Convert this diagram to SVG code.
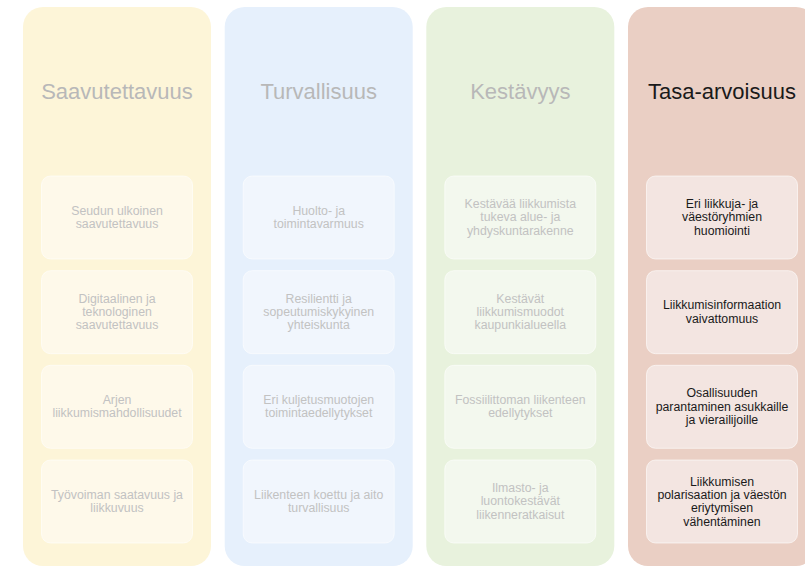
<svg xmlns="http://www.w3.org/2000/svg" width="805" height="567" viewBox="0 0 805 567">
<style>
.col{stroke:none}
.box{stroke:#ffffff;stroke-opacity:0.6;stroke-width:1}
text{font-family:"Liberation Sans",Arial,sans-serif;text-anchor:middle}
.t{font-size:22px}
.s{font-size:12.3px}
.dim{fill:#b8b8b8}
.dims{fill:#c2c2c2}
.dark{fill:#1a1a1a}
</style>
<rect width="805" height="567" fill="#ffffff"/>
<g id="col1">
<rect class="col" x="23" y="7" width="188" height="559" rx="20" fill="#fdf5d8"/>
<text class="t dim" x="117" y="99">Saavutettavuus</text>
<g id="c1b1"><rect class="box" x="41.5" y="176" width="151" height="83" rx="9" fill="#fef9ea"/>
<text class="s dims" x="117" y="214.6">Seudun ulkoinen</text><text class="s dims" x="117" y="227.9">saavutettavuus</text></g>
<g id="c1b2"><rect class="box" x="41.5" y="270.7" width="151" height="83" rx="9" fill="#fef9ea"/>
<text class="s dims" x="117" y="302.6">Digitaalinen ja</text><text class="s dims" x="117" y="315.9">teknologinen</text><text class="s dims" x="117" y="329.2">saavutettavuus</text></g>
<g id="c1b3"><rect class="box" x="41.5" y="365.3" width="151" height="83" rx="9" fill="#fef9ea"/>
<text class="s dims" x="117" y="403.9">Arjen</text><text class="s dims" x="117" y="417.2">liikkumismahdollisuudet</text></g>
<g id="c1b4"><rect class="box" x="41.5" y="460" width="151" height="83" rx="9" fill="#fef9ea"/>
<text class="s dims" x="117" y="498.6">Työvoiman saatavuus ja</text><text class="s dims" x="117" y="511.9">liikkuvuus</text></g>
</g>
<g id="col2">
<rect class="col" x="224.7" y="7" width="188" height="559" rx="20" fill="#e6f0fc"/>
<text class="t dim" x="318.7" y="99">Turvallisuus</text>
<g id="c2b1"><rect class="box" x="243.2" y="176" width="151" height="83" rx="9" fill="#f1f6fd"/>
<text class="s dims" x="318.7" y="214.6">Huolto- ja</text><text class="s dims" x="318.7" y="227.9">toimintavarmuus</text></g>
<g id="c2b2"><rect class="box" x="243.2" y="270.7" width="151" height="83" rx="9" fill="#f1f6fd"/>
<text class="s dims" x="318.7" y="302.6">Resilientti ja</text><text class="s dims" x="318.7" y="315.9">sopeutumiskykyinen</text><text class="s dims" x="318.7" y="329.2">yhteiskunta</text></g>
<g id="c2b3"><rect class="box" x="243.2" y="365.3" width="151" height="83" rx="9" fill="#f1f6fd"/>
<text class="s dims" x="318.7" y="403.9">Eri kuljetusmuotojen</text><text class="s dims" x="318.7" y="417.2">toimintaedellytykset</text></g>
<g id="c2b4"><rect class="box" x="243.2" y="460" width="151" height="83" rx="9" fill="#f1f6fd"/>
<text class="s dims" x="318.7" y="498.6">Liikenteen koettu ja aito</text><text class="s dims" x="318.7" y="511.9">turvallisuus</text></g>
</g>
<g id="col3">
<rect class="col" x="426.3" y="7" width="188" height="559" rx="20" fill="#e8f2dd"/>
<text class="t dim" x="520.3" y="99">Kestävyys</text>
<g id="c3b1"><rect class="box" x="444.8" y="176" width="151" height="83" rx="9" fill="#f3f8ee"/>
<text class="s dims" x="520.3" y="208">Kestävää liikkumista</text><text class="s dims" x="520.3" y="221.3">tukeva alue- ja</text><text class="s dims" x="520.3" y="234.6">yhdyskuntarakenne</text></g>
<g id="c3b2"><rect class="box" x="444.8" y="270.7" width="151" height="83" rx="9" fill="#f3f8ee"/>
<text class="s dims" x="520.3" y="302.6">Kestävät</text><text class="s dims" x="520.3" y="315.9">liikkumismuodot</text><text class="s dims" x="520.3" y="329.2">kaupunkialueella</text></g>
<g id="c3b3"><rect class="box" x="444.8" y="365.3" width="151" height="83" rx="9" fill="#f3f8ee"/>
<text class="s dims" x="520.3" y="403.9">Fossiilittoman liikenteen</text><text class="s dims" x="520.3" y="417.2">edellytykset</text></g>
<g id="c3b4"><rect class="box" x="444.8" y="460" width="151" height="83" rx="9" fill="#f3f8ee"/>
<text class="s dims" x="520.3" y="492">Ilmasto- ja</text><text class="s dims" x="520.3" y="505.3">luontokestävät</text><text class="s dims" x="520.3" y="518.6">liikenneratkaisut</text></g>
</g>
<g id="col4">
<rect class="col" x="628" y="7" width="188" height="559" rx="20" fill="#eacfc4"/>
<text class="t dark" x="722" y="99">Tasa-arvoisuus</text>
<g id="c4b1"><rect class="box" x="646.5" y="176" width="151" height="83" rx="9" fill="#f3e5e1"/>
<text class="s dark" x="722" y="208">Eri liikkuja-  ja</text><text class="s dark" x="722" y="221.3">väestöryhmien</text><text class="s dark" x="722" y="234.6">huomiointi</text></g>
<g id="c4b2"><rect class="box" x="646.5" y="270.7" width="151" height="83" rx="9" fill="#f3e5e1"/>
<text class="s dark" x="722" y="309.3">Liikkumisinformaation</text><text class="s dark" x="722" y="322.6">vaivattomuus</text></g>
<g id="c4b3"><rect class="box" x="646.5" y="365.3" width="151" height="83" rx="9" fill="#f3e5e1"/>
<text class="s dark" x="722" y="397.2">Osallisuuden</text><text class="s dark" x="722" y="410.5">parantaminen asukkaille</text><text class="s dark" x="722" y="423.8">ja vierailijoille</text></g>
<g id="c4b4"><rect class="box" x="646.5" y="460" width="151" height="83" rx="9" fill="#f3e5e1"/>
<text class="s dark" x="722" y="485.8">Liikkumisen</text><text class="s dark" x="722" y="499.1">polarisaation ja väestön</text><text class="s dark" x="722" y="512.4">eriytymisen</text><text class="s dark" x="722" y="525.7">vähentäminen</text></g>
</g>
<g id="connectors"></g>
</svg>
